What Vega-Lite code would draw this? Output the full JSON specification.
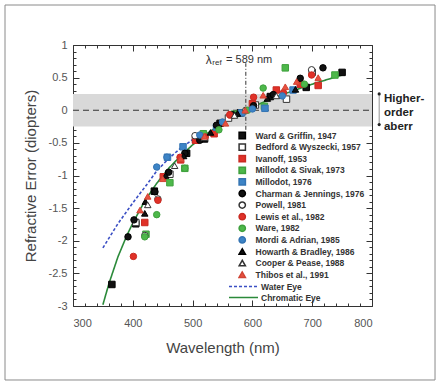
{
  "$schema": "https://vega.github.io/schema/vega-lite/v6.json",
  "width": 299,
  "height": 261,
  "autosize": {"type": "none"},
  "padding": {"left": 73, "top": 45, "right": 64, "bottom": 76},
  "background": "white",
  "config": {
    "view": {"stroke": "#333", "strokeWidth": 1},
    "font": "Liberation Sans",
    "axis": {"grid": false, "domain": false, "tickColor": "#333", "labelFont": "Liberation Sans", "titleFont": "Liberation Sans"}
  },
  "datasets": {
    "pts": [
      {"study": "Ward & Griffin, 1947", "wl": 365, "err": -2.67},
      {"study": "Ward & Griffin, 1947", "wl": 405, "err": -1.74},
      {"study": "Ward & Griffin, 1947", "wl": 436, "err": -1.24},
      {"study": "Ward & Griffin, 1947", "wl": 460, "err": -0.98},
      {"study": "Ward & Griffin, 1947", "wl": 490, "err": -0.66},
      {"study": "Ward & Griffin, 1947", "wl": 520, "err": -0.44},
      {"study": "Ward & Griffin, 1947", "wl": 546, "err": -0.2},
      {"study": "Ward & Griffin, 1947", "wl": 580, "err": -0.04},
      {"study": "Ward & Griffin, 1947", "wl": 630, "err": 0.21},
      {"study": "Ward & Griffin, 1947", "wl": 690, "err": 0.35},
      {"study": "Ward & Griffin, 1947", "wl": 750, "err": 0.58},
      {"study": "Bedford & Wyszecki, 1957", "wl": 405, "err": -1.72},
      {"study": "Bedford & Wyszecki, 1957", "wl": 462, "err": -0.98},
      {"study": "Bedford & Wyszecki, 1957", "wl": 505, "err": -0.45},
      {"study": "Bedford & Wyszecki, 1957", "wl": 560, "err": -0.12},
      {"study": "Bedford & Wyszecki, 1957", "wl": 605, "err": 0.08},
      {"study": "Bedford & Wyszecki, 1957", "wl": 657, "err": 0.17},
      {"study": "Bedford & Wyszecki, 1957", "wl": 700, "err": 0.58},
      {"study": "Ivanoff, 1953", "wl": 420, "err": -1.72},
      {"study": "Ivanoff, 1953", "wl": 451, "err": -1.02},
      {"study": "Ivanoff, 1953", "wl": 480, "err": -0.76},
      {"study": "Ivanoff, 1953", "wl": 505, "err": -0.46},
      {"study": "Ivanoff, 1953", "wl": 536, "err": -0.36},
      {"study": "Ivanoff, 1953", "wl": 565, "err": -0.07},
      {"study": "Ivanoff, 1953", "wl": 600, "err": 0.1},
      {"study": "Ivanoff, 1953", "wl": 640, "err": 0.31},
      {"study": "Ivanoff, 1953", "wl": 680, "err": 0.4},
      {"study": "Ivanoff, 1953", "wl": 710, "err": 0.38},
      {"study": "Millodot & Sivak, 1973", "wl": 422, "err": -1.9},
      {"study": "Millodot & Sivak, 1973", "wl": 462, "err": -1.11},
      {"study": "Millodot & Sivak, 1973", "wl": 487, "err": -0.89},
      {"study": "Millodot & Sivak, 1973", "wl": 518, "err": -0.36},
      {"study": "Millodot & Sivak, 1973", "wl": 570, "err": -0.06},
      {"study": "Millodot & Sivak, 1973", "wl": 620, "err": 0.06},
      {"study": "Millodot & Sivak, 1973", "wl": 655, "err": 0.65},
      {"study": "Millodot & Sivak, 1973", "wl": 738, "err": 0.54},
      {"study": "Millodot, 1976", "wl": 458, "err": -0.72},
      {"study": "Millodot, 1976", "wl": 484, "err": -0.56},
      {"study": "Millodot, 1976", "wl": 540, "err": -0.26},
      {"study": "Millodot, 1976", "wl": 582, "err": -0.04},
      {"study": "Millodot, 1976", "wl": 621, "err": 0.03},
      {"study": "Millodot, 1976", "wl": 668, "err": 0.31},
      {"study": "Charman & Jennings, 1976", "wl": 392, "err": -1.94},
      {"study": "Charman & Jennings, 1976", "wl": 402, "err": -1.68},
      {"study": "Charman & Jennings, 1976", "wl": 437, "err": -1.25},
      {"study": "Charman & Jennings, 1976", "wl": 460, "err": -0.95},
      {"study": "Charman & Jennings, 1976", "wl": 487, "err": -0.66},
      {"study": "Charman & Jennings, 1976", "wl": 512, "err": -0.46},
      {"study": "Charman & Jennings, 1976", "wl": 540, "err": -0.23},
      {"study": "Charman & Jennings, 1976", "wl": 567, "err": -0.07},
      {"study": "Charman & Jennings, 1976", "wl": 602, "err": 0.07},
      {"study": "Charman & Jennings, 1976", "wl": 635, "err": 0.24},
      {"study": "Charman & Jennings, 1976", "wl": 680, "err": 0.49},
      {"study": "Charman & Jennings, 1976", "wl": 718, "err": 0.65},
      {"study": "Powell, 1981", "wl": 420, "err": -1.92},
      {"study": "Powell, 1981", "wl": 442, "err": -1.36},
      {"study": "Powell, 1981", "wl": 504, "err": -0.39},
      {"study": "Powell, 1981", "wl": 589, "err": 0.0},
      {"study": "Powell, 1981", "wl": 699, "err": 0.62},
      {"study": "Lewis et al., 1982", "wl": 401, "err": -2.24},
      {"study": "Lewis et al., 1982", "wl": 442, "err": -1.38},
      {"study": "Lewis et al., 1982", "wl": 479, "err": -0.72},
      {"study": "Lewis et al., 1982", "wl": 521, "err": -0.41},
      {"study": "Lewis et al., 1982", "wl": 562, "err": -0.07},
      {"study": "Lewis et al., 1982", "wl": 602, "err": 0.2},
      {"study": "Lewis et al., 1982", "wl": 652, "err": 0.27},
      {"study": "Lewis et al., 1982", "wl": 699, "err": 0.54},
      {"study": "Ware, 1982", "wl": 420, "err": -1.94},
      {"study": "Ware, 1982", "wl": 440, "err": -1.6},
      {"study": "Ware, 1982", "wl": 487, "err": -0.89},
      {"study": "Ware, 1982", "wl": 544, "err": -0.3},
      {"study": "Ware, 1982", "wl": 592, "err": 0.0},
      {"study": "Ware, 1982", "wl": 618, "err": 0.34},
      {"study": "Ware, 1982", "wl": 687, "err": 0.4},
      {"study": "Mordi & Adrian, 1985", "wl": 440, "err": -0.87},
      {"study": "Mordi & Adrian, 1985", "wl": 457, "err": -0.72},
      {"study": "Mordi & Adrian, 1985", "wl": 512, "err": -0.38},
      {"study": "Mordi & Adrian, 1985", "wl": 550, "err": -0.18},
      {"study": "Mordi & Adrian, 1985", "wl": 600, "err": 0.02},
      {"study": "Mordi & Adrian, 1985", "wl": 650, "err": 0.22},
      {"study": "Howarth & Bradley, 1986", "wl": 420, "err": -1.58},
      {"study": "Howarth & Bradley, 1986", "wl": 421, "err": -1.4},
      {"study": "Howarth & Bradley, 1986", "wl": 455, "err": -1.0},
      {"study": "Howarth & Bradley, 1986", "wl": 485, "err": -0.7},
      {"study": "Howarth & Bradley, 1986", "wl": 530, "err": -0.34},
      {"study": "Howarth & Bradley, 1986", "wl": 575, "err": -0.05},
      {"study": "Howarth & Bradley, 1986", "wl": 625, "err": 0.18},
      {"study": "Howarth & Bradley, 1986", "wl": 672, "err": 0.32},
      {"study": "Cooper & Pease, 1988", "wl": 425, "err": -1.45},
      {"study": "Cooper & Pease, 1988", "wl": 470, "err": -0.85},
      {"study": "Cooper & Pease, 1988", "wl": 520, "err": -0.42},
      {"study": "Cooper & Pease, 1988", "wl": 570, "err": -0.08},
      {"study": "Cooper & Pease, 1988", "wl": 640, "err": 0.22},
      {"study": "Thibos et al., 1991", "wl": 412, "err": -1.53},
      {"study": "Thibos et al., 1991", "wl": 425, "err": -1.32},
      {"study": "Thibos et al., 1991", "wl": 450, "err": -1.05},
      {"study": "Thibos et al., 1991", "wl": 480, "err": -0.74},
      {"study": "Thibos et al., 1991", "wl": 520, "err": -0.4},
      {"study": "Thibos et al., 1991", "wl": 555, "err": -0.2},
      {"study": "Thibos et al., 1991", "wl": 588, "err": 0.0},
      {"study": "Thibos et al., 1991", "wl": 618, "err": 0.23},
      {"study": "Thibos et al., 1991", "wl": 655, "err": 0.36},
      {"study": "Thibos et al., 1991", "wl": 674, "err": 0.44},
      {"study": "Thibos et al., 1991", "wl": 710, "err": 0.5}
    ],
    "lines": [
      {"model": "Water Eye", "wl": 350, "err": -2.11},
      {"model": "Water Eye", "wl": 375, "err": -1.74},
      {"model": "Water Eye", "wl": 400, "err": -1.42},
      {"model": "Water Eye", "wl": 425, "err": -1.12},
      {"model": "Water Eye", "wl": 440, "err": -0.93},
      {"model": "Water Eye", "wl": 460, "err": -0.74},
      {"model": "Water Eye", "wl": 480, "err": -0.58},
      {"model": "Water Eye", "wl": 500, "err": -0.45},
      {"model": "Chromatic Eye", "wl": 350, "err": -2.98},
      {"model": "Chromatic Eye", "wl": 360, "err": -2.66},
      {"model": "Chromatic Eye", "wl": 375, "err": -2.25},
      {"model": "Chromatic Eye", "wl": 390, "err": -1.92},
      {"model": "Chromatic Eye", "wl": 400, "err": -1.73},
      {"model": "Chromatic Eye", "wl": 420, "err": -1.39},
      {"model": "Chromatic Eye", "wl": 440, "err": -1.12},
      {"model": "Chromatic Eye", "wl": 460, "err": -0.89},
      {"model": "Chromatic Eye", "wl": 480, "err": -0.7},
      {"model": "Chromatic Eye", "wl": 500, "err": -0.53},
      {"model": "Chromatic Eye", "wl": 525, "err": -0.35},
      {"model": "Chromatic Eye", "wl": 550, "err": -0.2},
      {"model": "Chromatic Eye", "wl": 575, "err": -0.07},
      {"model": "Chromatic Eye", "wl": 600, "err": 0.05},
      {"model": "Chromatic Eye", "wl": 625, "err": 0.15},
      {"model": "Chromatic Eye", "wl": 650, "err": 0.24},
      {"model": "Chromatic Eye", "wl": 675, "err": 0.32},
      {"model": "Chromatic Eye", "wl": 700, "err": 0.4},
      {"model": "Chromatic Eye", "wl": 725, "err": 0.47},
      {"model": "Chromatic Eye", "wl": 750, "err": 0.54}
    ]
  },
  "layer": [
    {
      "data": {"values": [{}]},
      "mark": {"type": "rect", "fill": null, "stroke": "#8a8a8a", "strokeWidth": 1},
      "encoding": {
        "x": {"datum": 186.3, "type": "quantitative", "scale": {"domain": [300, 800], "nice": false, "zero": false}, "axis": null},
        "x2": {"datum": 905.4},
        "y": {"datum": 1.613, "type": "quantitative", "scale": {"domain": [-3, 1], "nice": false, "zero": false}, "axis": null},
        "y2": {"datum": -4.134}
      }
    },
    {
      "data": {"values": [{}]},
      "mark": {"type": "rect", "fill": "#d9d9d9"},
      "encoding": {
        "x": {"datum": 300, "type": "quantitative", "scale": {"domain": [300, 800], "nice": false, "zero": false},
          "axis": {"orient": "bottom", "values": [300, 400, 500, 600, 700, 800], "tickSize": -6, "labelPadding": 17, "labelFontSize": 11, "labelColor": "#555", "title": "Wavelength (nm)", "titleFontSize": 15, "titleFontWeight": "normal", "titleColor": "#444", "titlePadding": 12}},
        "x2": {"datum": 800},
        "y": {"datum": -0.25, "type": "quantitative", "scale": {"domain": [-3, 1], "nice": false, "zero": false},
          "axis": {"orient": "left", "values": [-3, -2.5, -2, -1.5, -1, -0.5, 0, 0.5, 1], "labelExpr": "'' + datum.value", "tickSize": -6, "labelPadding": 12, "labelFontSize": 11, "labelColor": "#555", "title": "Refractive Error (diopters)", "titleFontSize": 15, "titleFontWeight": "normal", "titleColor": "#444", "titlePadding": 10}},
        "y2": {"datum": 0.25}
      }
    },
    {
      "data": {"values": [{}]},
      "mark": {"type": "rule", "stroke": "#333", "strokeWidth": 1, "strokeDash": [6, 4]},
      "encoding": {
        "x": {"datum": 300, "type": "quantitative", "scale": {"domain": [300, 800], "nice": false, "zero": false},
          "axis": {"orient": "top", "values": [300, 400, 500, 600, 700, 800], "tickSize": -6, "labels": false, "title": null}},
        "x2": {"datum": 800},
        "y": {"datum": 0, "type": "quantitative", "scale": {"domain": [-3, 1], "nice": false, "zero": false},
          "axis": {"orient": "right", "values": [-3, -2.5, -2, -1.5, -1, -0.5, 0, 0.5, 1], "tickSize": -6, "labels": false, "title": null}}
      }
    },
    {
      "data": {"values": [{}]},
      "mark": {"type": "rule", "stroke": "#333", "strokeWidth": 1, "strokeDash": [4, 2, 1, 2]},
      "encoding": {
        "x": {"datum": 589, "type": "quantitative", "scale": {"domain": [300, 800], "nice": false, "zero": false},
          "axis": {"orient": "bottom", "values": [320, 340, 360, 380, 420, 440, 460, 480, 520, 540, 560, 580, 620, 640, 660, 680, 720, 740, 760, 780], "tickSize": -3, "labels": false, "title": null}},
        "y": {"datum": -0.3, "type": "quantitative", "scale": {"domain": [-3, 1], "nice": false, "zero": false},
          "axis": {"orient": "left", "values": [-2.9, -2.8, -2.7, -2.6, -2.4, -2.3, -2.2, -2.1, -1.9, -1.8, -1.7, -1.6, -1.4, -1.3, -1.2, -1.1, -0.9, -0.8, -0.7, -0.6, -0.4, -0.3, -0.2, -0.1, 0.1, 0.2, 0.3, 0.4, 0.6, 0.7, 0.8, 0.9], "tickSize": -3, "labels": false, "title": null}},
        "y2": {"datum": 0.72}
      }
    },
    {
      "data": {"values": [{}]},
      "mark": {"type": "rule", "stroke": "#777", "strokeWidth": 0.8},
      "encoding": {
        "x": {"datum": 812, "type": "quantitative", "scale": {"domain": [300, 800], "nice": false, "zero": false},
          "axis": {"orient": "top", "values": [320, 340, 360, 380, 420, 440, 460, 480, 520, 540, 560, 580, 620, 640, 660, 680, 720, 740, 760, 780], "tickSize": -3, "labels": false, "title": null}},
        "y": {"datum": 0.25, "type": "quantitative", "scale": {"domain": [-3, 1], "nice": false, "zero": false},
          "axis": {"orient": "right", "values": [-2.9, -2.8, -2.7, -2.6, -2.4, -2.3, -2.2, -2.1, -1.9, -1.8, -1.7, -1.6, -1.4, -1.3, -1.2, -1.1, -0.9, -0.8, -0.7, -0.6, -0.4, -0.3, -0.2, -0.1, 0.1, 0.2, 0.3, 0.4, 0.6, 0.7, 0.8, 0.9], "tickSize": -3, "labels": false, "title": null}},
        "y2": {"datum": -0.22}
      }
    },
    {
      "data": {"values": [{"v": 0.25}, {"v": -0.22}]},
      "mark": {"type": "point", "filled": true, "color": "#222", "size": 10, "opacity": 1},
      "encoding": {
        "x": {"datum": 812, "type": "quantitative", "scale": {"domain": [300, 800], "nice": false, "zero": false}, "axis": null},
        "y": {"field": "v", "type": "quantitative", "scale": {"domain": [-3, 1], "nice": false, "zero": false}, "axis": null}
      }
    },
    {
      "data": {"name": "lines"},
      "mark": {"type": "line", "strokeWidth": 1.6},
      "encoding": {
        "x": {"field": "wl", "type": "quantitative", "scale": {"domain": [300, 800], "nice": false, "zero": false}, "axis": null},
        "y": {"field": "err", "type": "quantitative", "scale": {"domain": [-3, 1], "nice": false, "zero": false}, "axis": null},
        "color": {"field": "model", "type": "nominal", "scale": {"domain": ["Water Eye", "Chromatic Eye"], "range": ["#3b4fc4", "#2b8a3a"]},
          "legend": {"orient": "none", "legendX": 155, "legendY": 237, "title": null, "symbolType": "stroke", "symbolSize": 841, "symbolStrokeWidth": 1.5, "labelFontSize": 8.5, "labelFontWeight": "bold", "labelColor": "#333", "labelOffset": 2, "rowPadding": 2, "clipHeight": 9}},
        "strokeDash": {"field": "model", "type": "nominal", "scale": {"domain": ["Water Eye", "Chromatic Eye"], "range": [[3, 2], [1, 0]]},
          "legend": {"orient": "none", "legendX": 155, "legendY": 237, "title": null, "symbolType": "stroke", "symbolSize": 841, "symbolStrokeWidth": 1.5, "labelFontSize": 8.5, "labelFontWeight": "bold", "labelColor": "#333", "labelOffset": 2, "rowPadding": 2, "clipHeight": 9}}
      }
    },
    {
      "data": {"name": "pts"},
      "mark": {"type": "point", "strokeWidth": 1, "opacity": 1, "size": 42},
      "encoding": {
        "x": {"field": "wl", "type": "quantitative", "scale": {"domain": [300, 800], "nice": false, "zero": false}, "axis": null},
        "y": {"field": "err", "type": "quantitative", "scale": {"domain": [-3, 1], "nice": false, "zero": false}, "axis": null},
        "shape": {"field": "study", "type": "nominal",
          "scale": {"domain": ["Ward & Griffin, 1947", "Bedford & Wyszecki, 1957", "Ivanoff, 1953", "Millodot & Sivak, 1973", "Millodot, 1976", "Charman & Jennings, 1976", "Powell, 1981", "Lewis et al., 1982", "Ware, 1982", "Mordi & Adrian, 1985", "Howarth & Bradley, 1986", "Cooper & Pease, 1988", "Thibos et al., 1991"],
            "range": ["square", "square", "square", "square", "square", "circle", "circle", "circle", "circle", "circle", "triangle-up", "triangle-up", "triangle-up"]},
          "legend": {"orient": "none", "legendX": 165, "legendY": 86, "title": null, "symbolSize": 40, "labelFontSize": 8.5, "labelFontWeight": "bold", "labelColor": "#333", "labelOffset": 9, "rowPadding": 2.6, "clipHeight": 9}},
        "fill": {"field": "study", "type": "nominal",
          "scale": {"domain": ["Ward & Griffin, 1947", "Bedford & Wyszecki, 1957", "Ivanoff, 1953", "Millodot & Sivak, 1973", "Millodot, 1976", "Charman & Jennings, 1976", "Powell, 1981", "Lewis et al., 1982", "Ware, 1982", "Mordi & Adrian, 1985", "Howarth & Bradley, 1986", "Cooper & Pease, 1988", "Thibos et al., 1991"],
            "range": ["#111111", "#ffffff", "#e03128", "#4db84a", "#3d84c6", "#111111", "#ffffff", "#e03128", "#4db84a", "#3d84c6", "#111111", "#ffffff", "#e8503f"]},
          "legend": {"orient": "none", "legendX": 165, "legendY": 86, "title": null, "symbolSize": 40, "labelFontSize": 8.5, "labelFontWeight": "bold", "labelColor": "#333", "labelOffset": 9, "rowPadding": 2.6, "clipHeight": 9}},
        "stroke": {"field": "study", "type": "nominal",
          "scale": {"domain": ["Ward & Griffin, 1947", "Bedford & Wyszecki, 1957", "Ivanoff, 1953", "Millodot & Sivak, 1973", "Millodot, 1976", "Charman & Jennings, 1976", "Powell, 1981", "Lewis et al., 1982", "Ware, 1982", "Mordi & Adrian, 1985", "Howarth & Bradley, 1986", "Cooper & Pease, 1988", "Thibos et al., 1991"],
            "range": ["#000000", "#333333", "#c92a22", "#3fa03d", "#3474b3", "#000000", "#333333", "#c92a22", "#3fa03d", "#3474b3", "#000000", "#333333", "#d04434"]},
          "legend": {"orient": "none", "legendX": 165, "legendY": 86, "title": null, "symbolSize": 40, "labelFontSize": 8.5, "labelFontWeight": "bold", "labelColor": "#333", "labelOffset": 9, "rowPadding": 2.6, "clipHeight": 9}}
      }
    },
    {
      "data": {"values": [{}]},
      "mark": {"type": "text", "text": "λ", "fontSize": 12, "align": "left", "baseline": "middle", "color": "#333"},
      "encoding": {
        "x": {"datum": 522, "type": "quantitative", "scale": {"domain": [300, 800], "nice": false, "zero": false}, "axis": null},
        "y": {"datum": 0.77, "type": "quantitative", "scale": {"domain": [-3, 1], "nice": false, "zero": false}, "axis": null}
      }
    },
    {
      "data": {"values": [{}]},
      "mark": {"type": "text", "text": "ref", "fontSize": 8, "align": "left", "baseline": "middle", "color": "#333"},
      "encoding": {
        "x": {"datum": 533, "type": "quantitative", "scale": {"domain": [300, 800], "nice": false, "zero": false}, "axis": null},
        "y": {"datum": 0.72, "type": "quantitative", "scale": {"domain": [-3, 1], "nice": false, "zero": false}, "axis": null}
      }
    },
    {
      "data": {"values": [{}]},
      "mark": {"type": "text", "text": "= 589 nm", "fontSize": 11, "align": "left", "baseline": "middle", "color": "#333"},
      "encoding": {
        "x": {"datum": 556, "type": "quantitative", "scale": {"domain": [300, 800], "nice": false, "zero": false}, "axis": null},
        "y": {"datum": 0.77, "type": "quantitative", "scale": {"domain": [-3, 1], "nice": false, "zero": false}, "axis": null}
      }
    },
    {
      "data": {"values": [{}]},
      "mark": {"type": "text", "text": "Higher-\norder\naberr", "lineBreak": "\n", "lineHeight": 14, "fontSize": 11.5, "fontWeight": "bold", "align": "left", "baseline": "middle", "color": "#222"},
      "encoding": {
        "x": {"datum": 820, "type": "quantitative", "scale": {"domain": [300, 800], "nice": false, "zero": false}, "axis": null},
        "y": {"datum": 0.17, "type": "quantitative", "scale": {"domain": [-3, 1], "nice": false, "zero": false}, "axis": null}
      }
    }
  ],
  "resolve": {"axis": {"x": "independent", "y": "independent"}}
}
